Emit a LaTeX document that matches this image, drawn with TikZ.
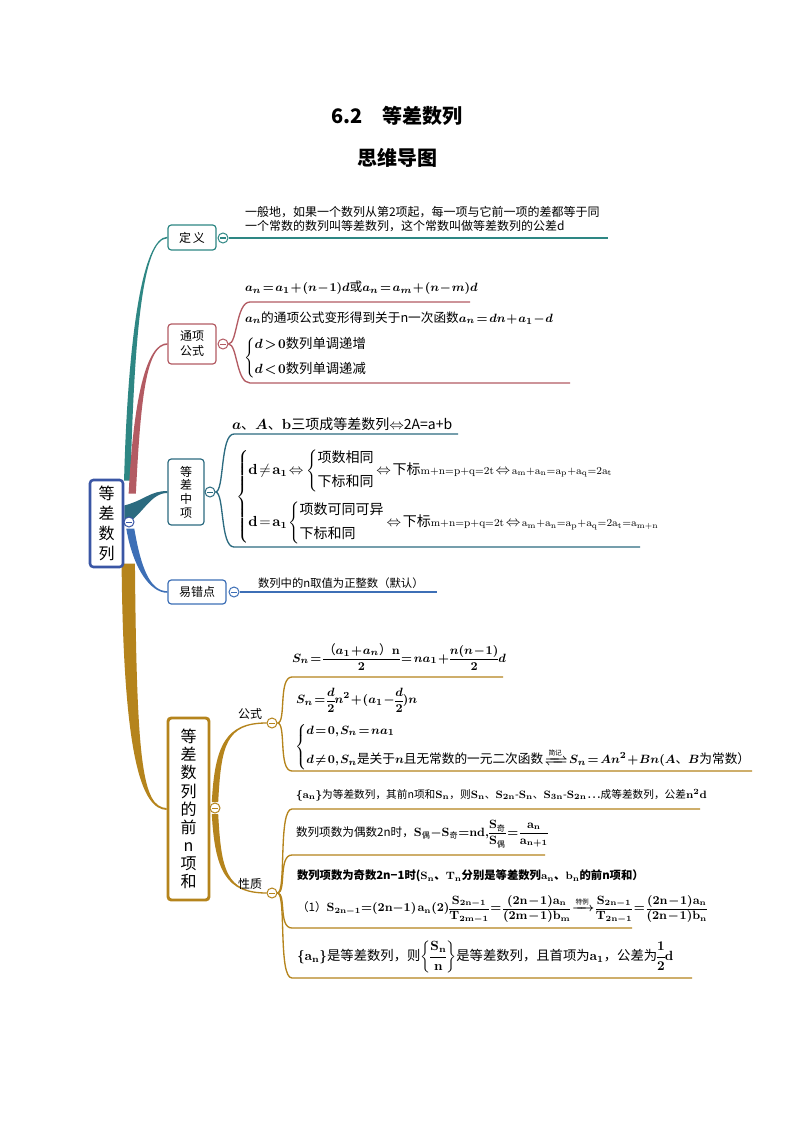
\documentclass[tikz,border=0pt]{standalone}
\usepackage{amsmath,amssymb,mathtools}
\usepackage[no-math]{fontspec}
\setmainfont{Noto Sans CJK SC}
\usetikzlibrary{calc}
\pgfdeclarelayer{bg}
\pgfsetlayers{bg,main}
\definecolor{cteal}{HTML}{2E8784}
\definecolor{cred}{HTML}{B35B63}
\definecolor{czx}{HTML}{2C6B80}
\definecolor{cblue}{HTML}{3D6FB6}
\definecolor{croot}{HTML}{3A56A5}
\definecolor{cgold}{HTML}{B5841C}
\newcommand\fs[2]{\fontsize{#1}{#2}\selectfont}
\newcommand\lr{\mkern2mu{\Leftrightarrow}\mkern2mu}
\newcommand\sm[1]{\text{\fs{8.3}{10}$\mathrm{#1}$}}
% tapered branch: colour, start, ctrl1, ctrl2, end, half width start, half width end, +1 up / -1 down
\newcommand\taper[8]{%
 \fill[#1] let \p0=(#2),\p1=(#3),\p2=(#4),\p3=(#5) in
 ({\x0-#6},{\y0}) .. controls ({\x1-#6},{\y1}) and ({\x2},{\y2+#8*#7}) .. ({\x3},{\y3+#8*#7})
 -- ({\x3},{\y3-#8*#7}) .. controls ({\x2},{\y2-#8*#7}) and ({\x1+#6},{\y1}) .. ({\x0+#6},{\y0}) -- cycle;}
\tikzset{
 box/.style={draw, rounded corners=2.5pt, fill=white, inner sep=0pt, align=center},
 tog/.style={circle, draw=#1, fill=white, line width=0.75pt, minimum size=7.5pt, inner sep=0pt,
   path picture={\draw[#1, line width=0.75pt] ([xshift=1.7pt]path picture bounding box.west) -- ([xshift=-1.7pt]path picture bounding box.east);}},
 br/.style={line width=1pt},
 lab/.style={anchor=west, inner sep=0pt, outer sep=0pt},
}
\begin{document}
\thickmuskip=2mu plus 1mu
\medmuskip=1mu plus 1mu
\thinmuskip=1.5mu
\nulldelimiterspace=0pt
\begin{tikzpicture}[x=0.75pt,y=-0.75pt]
\useasboundingbox (0,0) rectangle (794,1123);
% titles
\node[font=\fs{15}{18}\bfseries] (title) at (397,116) {6.2\quad 等差数列};
\node[font=\fs{15}{18}\bfseries] (sub) at (397,158) {思维导图};
% main nodes
\node[box, draw=croot, line width=1.9pt, minimum width=24.75pt, minimum height=65.25pt, font=\fs{12}{15}] (root) at (106.5,523.5) {等\\差\\数\\列};
\node[box, draw=cteal, line width=0.9pt, minimum width=36pt, minimum height=18.75pt, font=\fs{9}{11}] (def) at (192,237.5) {定\,义};
\node[box, draw=cred, line width=0.9pt, minimum width=36pt, minimum height=30pt, font=\fs{9}{11.25}] (tx) at (192,344) {通项\\公式};
\node[box, draw=czx, line width=0.9pt, minimum width=27pt, minimum height=49.5pt, font=\fs{9}{10.3}] (zx) at (186,492) {等\\差\\中\\项};
\node[box, draw=cblue, line width=0.9pt, minimum width=43.5pt, minimum height=18pt, font=\fs{9}{11}] (yc) at (197,592) {易错点};
\node[box, draw=cgold, line width=2.2pt, minimum width=30.75pt, minimum height=136.5pt, font=\fs{12}{13.6}] (qn) at (188.5,809) {等\\差\\数\\列\\的\\前\\n\\项\\和};
\node[font=\fs{9}{11}, inner sep=0pt] (gs) at (250,714) {公式};
\node[font=\fs{9}{11}, inner sep=0pt] (xz) at (250,884) {性质};
% toggles
\node[tog=croot] (c0) at (129,522) {};
\node[tog=cteal] (c1) at (223,238) {};
\node[tog=cred] (c2) at (223,344) {};
\node[tog=czx] (c3) at (210,492) {};
\node[tog=cblue] (c4) at (234,592) {};
\node[tog=cgold] (c5) at (215,808) {};
\node[tog=cgold] (c6) at (272,723) {};
\node[tog=cgold] (c7) at (272,893) {};
% main tapered branches
\begin{pgfonlayer}{bg}
\fill[white] (0,0) rectangle (794,1123);
\taper{cteal}{$(root.east)+(3,-43)$}{131,340}{142,238}{def.west}{2.4pt}{0.6pt}{1}
\taper{cred}{$(root.east)+(8,-30)$}{137,400}{146,344}{tx.west}{2.7pt}{0.6pt}{1}
\fill[czx] ($(root.east)+(0,-18)$) .. controls (145,500) and (150,491) .. ($(zx.west)+(0,-1)$) -- ($(zx.west)+(0,1)$) .. controls (150,493) and (143,515) .. ($(root.east)+(0,2)$) -- cycle;
\taper{cblue}{$(root.east)+(6,5)$}{137,568}{150,592}{yc.west}{3pt}{0.6pt}{-1}
\taper{cgold}{$(root.east)+(4,40)$}{130,760}{142,808}{qn.west}{5pt}{0.7pt}{-1}
\taper{cgold}{$(c5.center)+(0,-6)$}{218,745}{226,723}{c6.west}{2.4pt}{0.5pt}{1}
\taper{cgold}{$(c5.center)+(0,6)$}{218,870}{226,893}{c7.west}{2.4pt}{0.5pt}{-1}
\end{pgfonlayer}
% line ends
\coordinate (d1) at (608,238);
\coordinate (ta1) at (250,302); \coordinate (ta2) at (470,302);
\coordinate (tb1) at (250,383); \coordinate (tb2) at (570,383);
\coordinate (za1) at (234,434); \coordinate (za2) at (458,434);
\coordinate (zb1) at (234,547); \coordinate (zb2) at (640,547);
\coordinate (ye) at (437,592);
\coordinate (ga1) at (292,677); \coordinate (ga2) at (503,677);
\coordinate (gb1) at (292,771); \coordinate (gb2) at (752,771);
\coordinate (xa1) at (292,809); \coordinate (xa2) at (700,809);
\coordinate (xb1) at (292,855); \coordinate (xb2) at (545,855);
\coordinate (xc1) at (292,928); \coordinate (xc2) at (632,928);
\coordinate (xd1) at (292,978); \coordinate (xd2) at (692,978);
% sub branches
\draw[cteal, line width=1.1pt] (c1.east) -- (d1);
\draw[cred, br] (c2.east) .. controls +(9,0) and +(-14,0) .. (ta1) -- (ta2);
\draw[cred, br] (c2.east) .. controls +(9,0) and +(-14,0) .. (tb1) -- (tb2);
\draw[czx, br] (c3.east) .. controls +(9,0) and +(-14,0) .. (za1) -- (za2);
\draw[czx, br] (c3.east) .. controls +(9,0) and +(-14,0) .. (zb1) -- (zb2);
\draw[cblue, line width=1.1pt] (c4.east) -- (ye);
\draw[cgold, br] (c6.east) .. controls +(9,0) and +(-14,0) .. (ga1) -- (ga2);
\draw[cgold, br] (c6.east) .. controls +(9,0) and +(-14,0) .. (gb1) -- (gb2);
\draw[cgold, br] (c7.east) .. controls +(9,0) and +(-14,0) .. (xa1) -- (xa2);
\draw[cgold, br] (c7.east) .. controls +(9,0) and +(-14,0) .. (xb1) -- (xb2);
\draw[cgold, br] (c7.east) .. controls +(9,0) and +(-14,0) .. (xc1) -- (xc2);
\draw[cgold, br] (c7.east) .. controls +(9,0) and +(-14,0) .. (xd1) -- (xd2);
% texts: definition
\node[lab, anchor=north west, align=left, font=\fs{9}{10.5}] (tdef) at (245,206) {一般地，如果一个数列从第2项起，每一项与它前一项的差都等于同\\一个常数的数列叫等差数列，这个常数叫做等差数列的公差d};
% general term
\node[lab, font=\fs{9.5}{12}\boldmath] (tx1) at (245,288) {$a_n=a_1+(n-1)d$或$a_n=a_m+(n-m)d$};
\node[lab, font=\fs{9.5}{12}\boldmath] (tx2) at (245,318) {$a_n$的通项公式变形得到关于n一次函数$a_n=dn+a_1-d$};
\node[lab, font=\fs{10}{12}\boldmath] (tx3) at (244,358) {$\left\{\begin{array}{@{}l@{}} d>0\text{数列单调递增}\\[7pt] d<0\text{数列单调递减}\end{array}\right.$};
% middle term
\node[lab, font=\fs{10.5}{12}] (zx1) at (232,424) {{\boldmath$a$、$A$、$\mathrm{b}$}三项成等差数列$\Leftrightarrow$2A=a+b};
\node[lab, font=\fs{10.5}{12}] (zx2) at (236,497) {$\left\{\begin{array}{@{}l@{}}
\mathbf{d}\neq\mathbf{a}_{\mathbf{1}}\lr\left\{\begin{array}{@{}l@{}}\text{项数相同}\\[6pt]\text{下标和同}\end{array}\right.\lr\text{下标}\sm{m{+}n{=}p{+}q{=}2t}\lr\sm{a_m{+}a_n{=}a_p{+}a_q{=}2a_t}\\[17pt]
\mathbf{d}=\mathbf{a}_{\mathbf{1}}\left\{\begin{array}{@{}l@{}}\text{项数可同可异}\\[6pt]\text{下标和同}\end{array}\right.\lr\text{下标}\sm{m{+}n{=}p{+}q{=}2t}\lr\sm{a_m{+}a_n{=}a_p{+}a_q{=}2a_t{=}a_{m+n}}
\end{array}\right.$};
% error-prone point
\node[lab, font=\fs{8.5}{10}] (yc1) at (258,583) {数列中的n取值为正整数（默认）};
% sum formulas
\node[lab, font=\fs{9.5}{12}\boldmath] (gs1) at (292,657) {$S_n=\dfrac{\text{（}a_1+a_n\text{）}\mathrm{n}}{2}=na_1+\dfrac{n(n-1)}{2}d$};
\node[lab, font=\fs{9.5}{12}\boldmath] (gs2) at (296,700) {$S_n=\dfrac{d}{2}n^2+(a_1-\dfrac{d}{2})n$};
\node[lab, font=\fs{9.5}{12}\boldmath] (gs3) at (295,747) {$\left\{\begin{array}{@{}l@{}} d=0,S_n=na_1\\[7pt] d\neq0,S_n\text{是关于}n\text{且无常数的一元二次函数}\xrightleftharpoons{\text{\fs{5}{5}简记}}S_n=An^2+Bn(A\text{、}B\text{为常数）}\end{array}\right.$};
% properties
\node[lab, font=\fs{8}{10}\boldmath] (xz1) at (296,795) {$\{\mathrm{a_n}\}$为等差数列，其前n项和$\mathrm{S_n}$，则$\mathrm{S_n}$、$\mathrm{S_{2n}}$-$\mathrm{S_n}$、$\mathrm{S_{3n}}$-$\mathrm{S_{2n}}\ldots$成等差数列，公差$\mathrm{n^2d}$};
\node[lab, font=\fs{8.7}{11}\boldmath] (xz2) at (296,834) {数列项数为偶数2n时，$\mathrm{S_{\text{偶}}{-}S_{\text{奇}}{=}nd,}\dfrac{\mathrm{S_{\text{奇}}}}{\mathrm{S_{\text{偶}}}}=\dfrac{\mathrm{a_n}}{\mathrm{a_{n+1}}}$};
\node[lab, font=\fs{8.5}{10}\bfseries\boldmath] (xz3) at (297,876) {数列项数为奇数2n−1时($\mathrm{S_n}$、$\mathrm{T_n}$分别是等差数列$\mathrm{a_n}$、$\mathrm{b_n}$的前n项和）};
\node[lab, font=\fs{8.7}{10}\boldmath] (xz4) at (297,909) {（1）$\mathrm{S_{2n-1}{=}(2n{-}1)\,a_n(2)}\dfrac{\mathrm{S_{2n-1}}}{\mathrm{T_{2m-1}}}=\dfrac{\mathrm{(2n-1)a_n}}{\mathrm{(2m-1)b_m}}\xrightarrow{\text{\fs{5}{5}特例}}\dfrac{\mathrm{S_{2n-1}}}{\mathrm{T_{2n-1}}}=\dfrac{\mathrm{(2n-1)a_n}}{\mathrm{(2n-1)b_n}}$};
\node[lab, font=\fs{10}{12}\boldmath] (xz5) at (297,957) {$\{\mathrm{a_n}\}$是等差数列，则$\left\{\dfrac{\mathrm{S_n}}{\mathrm{n}}\right\}$是等差数列，且首项为$\mathrm{a_1}$，公差为$\dfrac{1}{2}\mathrm{d}$};
\end{tikzpicture}
\end{document}
